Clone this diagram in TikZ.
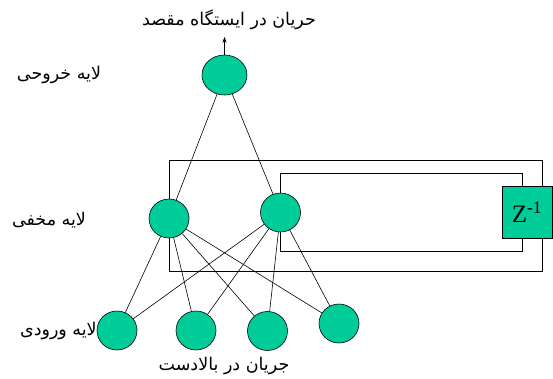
\documentclass[tikz,border=0pt]{standalone}
\usepackage{fontspec}
\newfontfamily\arabicfont[Script=Arabic]{DejaVu Sans}
\setmainfont{Liberation Serif}
\TeXXeTstate=1
\usetikzlibrary{arrows.meta,shapes.geometric}
\definecolor{neurongreen}{RGB}{0,204,153}

\begin{document}
\begin{tikzpicture}[
    x=1pt, y=-1pt,
    >=Stealth,
    line width=0.6pt,
    neuron/.style={
        ellipse, draw, fill=neurongreen,
        inner sep=0pt,
        minimum width=40pt,
        minimum height=39pt
    },
    delaybox/.style={
        rectangle, draw, fill=neurongreen,
        inner sep=0pt,
        minimum width=50pt,
        minimum height=52pt,
        font=\fontsize{25}{30}\selectfont
    },
    layerlabel/.style={
        font=\arabicfont\fontsize{17.5}{20}\selectfont,
        inner sep=0pt
    }
]
\useasboundingbox (0,0) rectangle (553,378);

% output layer
\node[neuron,minimum width=45pt,minimum height=40pt] (out) at (224.5,75) {};
\coordinate (dest) at (224.5,37);
\draw[->] (out) -- (dest);
\node[layerlabel] (desttext) at (229,20) {\beginR حریان در ایستگاه مقصد\endR};

% hidden layer
\node[neuron] (h1) at (169,218.5) {};
\node[neuron] (h2) at (280.5,212.5) {};

% delay element
\node[delaybox] (z) at (527,212) {Z\textsuperscript{-1}};

\coordinate (o1) at (542,160);
\coordinate (o2) at (542,271);
\coordinate (i1) at (522,173);
\coordinate (i2) at (522,251);

\draw (h1.north) |- (o1) -- (z.north -| o1);
\draw (z.south -| o2) -- (o2) -| (h1.south);
\draw (h2.north) |- (i1) -- (z.north -| i1);
\draw (z.south -| i2) -- (i2) -| (h2.south);

\draw (out) -- (h1);
\draw (out) -- (h2);

% input layer
\node[neuron] (x1) at (117,330.5) {};
\node[neuron] (x2) at (196,330.5) {};
\node[neuron] (x3) at (267.5,331) {};
\node[neuron] (x4) at (339,323.5) {};

\foreach \h in {h1,h2}
    \foreach \x in {x1,x2,x3,x4}
        \draw (\h) -- (\x);

\node[layerlabel] (srctext) at (224,366) {\beginR جریان در بالادست\endR};

% layer names
\node[layerlabel] (outlabel) at (59,75) {\beginR لایه خروحی\endR};
\node[layerlabel] (hidlabel) at (49,220) {\beginR لایه مخفی\endR};
\node[layerlabel,anchor=east] (inlabel) at (97,331) {\beginR لایه ورودی\endR};

\end{tikzpicture}
\end{document}
